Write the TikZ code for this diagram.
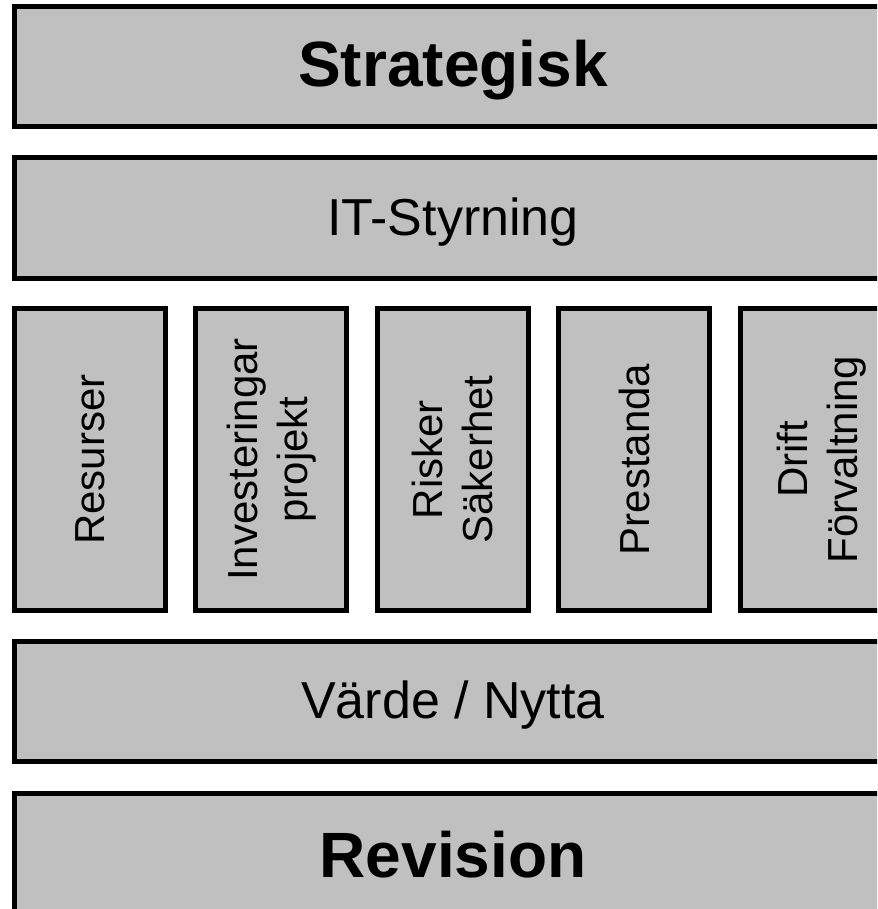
\documentclass[tikz,border=0pt]{standalone}
\usepackage{fontspec}
\setmainfont{Liberation Sans}
\begin{document}
\begin{tikzpicture}[x=1pt,y=-1pt,
  bar/.style={draw=black, line width=5pt, fill={rgb,255:red,192;green,192;blue,192}, inner sep=0pt, outer sep=0pt, minimum width=875.5pt, minimum height=120.5pt, anchor=north west},
  col/.style={draw=black, line width=5pt, fill={rgb,255:red,192;green,192;blue,192}, inner sep=0pt, outer sep=0pt, minimum width=302pt, minimum height=151pt, rotate=90, align=center, font=\fontsize{42}{50}\selectfont},
  bigtxt/.style={font=\fontsize{64}{70}\selectfont\bfseries},
  midtxt/.style={font=\fontsize{52}{58}\selectfont}]
\useasboundingbox (0,0) rectangle (877,909);
\clip (0,0) rectangle (877,909);
\node[bar] (strat) at (14.5,6.5) {};
\node[bigtxt] (strattxt) at (453,70) {Strategisk};
\node[bar] (it) at (14.5,158) {};
\node[midtxt] (ittxt) at (453,222) {IT-Styrning};
\node[col] (c1) at (90,459.5) {Resurser};
\node[col] (c2) at (271.25,459.5) {Investeringar\\projekt};
\node[col] (c3) at (452.75,459.5) {Risker\\Säkerhet};
\node[col] (c4) at (634,459.5) {Prestanda};
\node[col, minimum height=163pt] (c5) at (821.5,459.5) {Drift\\Förvaltning};
\node[bar] (varde) at (14.5,641) {};
\node[midtxt] (vardetxt) at (453,705) {Värde / Nytta};
\node[bar] (rev) at (14.5,793) {};
\node[bigtxt] (revtxt) at (453,855) {Revision};
\end{tikzpicture}
\end{document}
